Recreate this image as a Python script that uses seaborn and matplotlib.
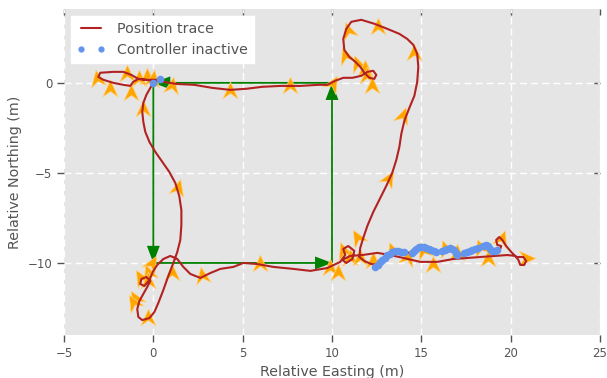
import matplotlib
matplotlib.use("Agg")
import matplotlib.pyplot as plt
import seaborn as sns
from matplotlib.path import Path
from matplotlib.markers import MarkerStyle
from matplotlib.transforms import Affine2D
from matplotlib.lines import Line2D

# ---- data -------------------------------------------------------------
# planned square route (waypoints, metres)
route_x = [0, 0, 10, 10, 0]
route_y = [0, -10, -10, 0, 0]

# recorded position trace (metres east / north of start)
trace_x = [0.00, -0.17, -0.39, -0.56, -0.62, -0.56, -0.45, -0.22, 0.11, 0.50,
           0.89, 1.23, 1.45, 1.57, 1.57, 1.51, 1.34, 1.12, 0.84, 0.56,
           0.28, 0.06, -0.22, -0.62, -0.84, -0.90, -0.78, -0.56, -0.34, -0.17,
           -0.39, -0.67, -0.73, -0.50, -0.22, 0.00, 0.22, 0.56, 0.95, 1.34,
           1.68, 2.07, 2.63, 3.19, 3.75, 4.48, 5.04, 5.82, 6.72, 7.83,
           8.79, 9.74, 10.46, 10.74, 10.63, 10.91, 11.25, 11.14, 10.80, 10.58,
           11.02, 11.70, 12.54, 13.26, 13.99, 14.94, 15.89, 16.79, 18.30, 19.81,
           20.26, 20.43, 20.54, 20.76, 20.87, 20.71, 20.31, 20.03, 19.75, 19.53,
           19.36, 19.19, 19.25, 19.47, 19.42, 19.25, 19.03, 18.86, 18.69, 18.47,
           18.13, 17.85, 17.57, 17.29, 17.01, 16.84, 16.62, 16.23, 15.89, 15.50,
           15.22, 14.94, 14.66, 14.38, 13.99, 13.65, 13.26, 12.87, 12.59, 12.20,
           11.81, 11.53, 11.58, 11.75, 11.98, 12.31, 12.70, 13.04, 13.37, 13.60,
           13.77, 13.88, 14.05, 14.33, 14.61, 14.77, 14.83, 14.77, 14.55, 14.21,
           13.77, 13.09, 12.37, 11.64, 11.08, 10.80, 10.63, 10.69, 10.97, 11.30,
           11.58, 11.81, 12.09, 12.37, 12.48, 12.31, 11.98, 11.64, 11.14, 10.63,
           10.17, 9.74, 9.23, 8.23, 7.11, 6.10, 5.20, 4.31, 3.30, 2.29,
           1.29, 0.56, 0.00, -0.45, -0.84, -1.12, -1.29, -1.68, -2.24, -2.80,
           -3.08, -2.97, -2.24, -1.68, -1.23, -0.84, -0.39, 0.06, 0.39]
trace_y = [0.00, -0.28, -0.67, -1.11, -1.61, -2.17, -2.72, -3.28, -3.83, -4.39,
           -4.94, -5.56, -6.28, -7.06, -7.89, -8.72, -9.39, -10.00, -10.72, -11.50,
           -12.22, -12.72, -13.06, -13.17, -13.00, -12.56, -12.11, -11.72, -11.33, -11.00,
           -10.78, -10.89, -11.17, -11.28, -10.94, -10.44, -10.11, -9.78, -9.61, -9.78,
           -10.22, -10.61, -10.83, -10.56, -10.33, -10.22, -10.00, -10.06, -10.22, -10.33,
           -10.44, -10.28, -9.94, -9.56, -9.22, -9.06, -9.33, -9.78, -10.00, -9.83,
           -9.61, -9.56, -9.44, -9.56, -9.72, -9.94, -9.94, -9.78, -9.67, -9.56,
           -9.61, -9.83, -10.11, -10.11, -9.89, -9.67, -9.67, -9.39, -9.06, -8.72,
           -8.56, -8.72, -9.00, -9.06, -9.22, -9.28, -9.39, -9.28, -9.00, -9.06,
           -9.17, -9.28, -9.39, -9.50, -9.56, -9.28, -9.17, -9.33, -9.39, -9.28,
           -9.17, -9.11, -9.28, -9.44, -9.39, -9.33, -9.44, -9.78, -10.11, -10.06,
           -9.89, -9.67, -9.17, -8.61, -7.94, -7.17, -6.39, -5.72, -5.00, -4.28,
           -3.56, -2.83, -2.11, -1.39, -0.72, 0.06, 0.89, 1.61, 2.11, 2.44,
           2.72, 3.00, 3.28, 3.50, 3.39, 3.00, 2.44, 1.83, 1.44, 1.17,
           0.89, 0.56, 0.28, 0.22, 0.44, 0.67, 0.61, 0.39, 0.28, 0.28,
           0.11, -0.11, -0.11, -0.17, -0.17, -0.22, -0.33, -0.39, -0.28, -0.11,
           -0.06, 0.06, 0.11, 0.17, 0.22, 0.06, -0.17, -0.11, 0.00, 0.17,
           0.33, 0.56, 0.61, 0.61, 0.44, 0.22, 0.17, 0.17, 0.17]

# samples logged while the controller was inactive
idle_x = [0.00, 0.39,
          12.42, 12.59, 12.70, 12.82, 12.95, 13.08, 13.22, 13.38, 13.55, 13.72, 13.88, 14.02,
          14.45, 14.58, 14.72, 14.86, 15.00, 15.14, 15.28, 15.42, 15.56, 15.70, 15.84,
          16.15, 16.30, 16.45, 16.60, 16.72, 16.84, 16.92, 17.00,
          17.40, 17.55, 17.70, 17.85, 18.00, 18.15,
          18.45, 18.62, 18.72, 18.82, 18.95, 19.10, 19.25]
idle_y = [0.00, 0.22,
          -10.22, -10.11, -9.95, -9.83, -9.70, -9.58, -9.48, -9.40, -9.34, -9.33, -9.37, -9.40,
          -9.42, -9.33, -9.22, -9.12, -9.10, -9.14, -9.19, -9.25, -9.30, -9.35, -9.39,
          -9.35, -9.28, -9.20, -9.16, -9.20, -9.30, -9.42, -9.54,
          -9.45, -9.38, -9.32, -9.27, -9.22, -9.17,
          -9.06, -9.00, -9.08, -9.22, -9.35, -9.36, -9.28]

# heading samples: position and heading (deg, counter-clockwise from north)
head_x = [-3.13, -2.41, -1.45, -1.23, -0.78, -0.34, 0.00, -0.56, 1.06, 4.31,
          7.67, 10.07, 1.40, -0.06, -0.28, -0.73, -0.28, -1.01, -1.12, -0.28,
          1.06, 2.74, 5.99, 9.90, 10.35, 10.63, 11.42, 11.02, 11.58, 12.31,
          13.37, 14.27, 15.11, 15.67, 16.34, 17.01, 18.30, 18.75, 19.53, 20.93,
          13.21, 13.99, 14.61, 12.59, 10.91, 10.74, 11.42, 11.86, 11.98, 12.26]
head_y = [0.28, -0.28, 0.56, -0.50, 0.28, 0.39, 0.28, -1.39, -0.11, -0.39,
          -0.11, 0.00, -5.78, -10.00, -10.50, -10.78, -10.94, -11.94, -12.17, -13.00,
          -10.50, -10.67, -10.00, -10.22, -10.50, -9.28, -8.56, -9.67, -9.67, -9.83,
          -9.28, -9.67, -9.28, -10.06, -9.17, -9.39, -9.11, -9.72, -8.61, -9.72,
          -5.28, -1.78, 1.72, 3.17, 2.94, 1.56, 1.11, 0.83, 0.44, -0.11]
head_deg = [10, 0, 0, 0, 0, 0, -10, 0, -10, 0,
            0, -30, -15, -30, 20, 30, 0, 30, 30, 0,
            0, 10, 0, 0, 0, 20, 30, 0, 0, 0,
            20, -20, 20, 0, 20, 0, 20, 0, -20, -90,
            -30, -20, 0, 0, 20, 20, 20, 0, 0, 0]

x_ticks = [-5, 0, 5, 10, 15, 20, 25]
y_ticks = [-10, -5, 0]

# ---- style ------------------------------------------------------------
grey_text = "#555555"
sns.set_theme(style="darkgrid", rc={
    "axes.facecolor": "#E5E5E5",
    "grid.color": "white",
    "grid.linestyle": (0, (5, 3)),
    "grid.linewidth": 1.0,
    "text.color": grey_text,
    "axes.labelcolor": grey_text,
    "xtick.color": grey_text,
    "ytick.color": grey_text,
    "xtick.bottom": True,
    "ytick.left": True,
    "xtick.direction": "out",
    "ytick.direction": "out",
})
plt.rcParams["font.family"] = ["DejaVu Sans"]

fig = plt.figure(figsize=(6.07, 3.78), dpi=100)
ax = fig.add_axes([64 / 607, 43 / 378, 536 / 607, 326 / 378])

# planned route with arrow heads
for i in range(len(route_x) - 1):
    ax.arrow(route_x[i], route_y[i],
             route_x[i + 1] - route_x[i], route_y[i + 1] - route_y[i],
             width=0.1, head_width=0.72, head_length=0.95,
             length_includes_head=True, color="green", lw=0, zorder=1)

# heading markers: notched arrowhead rotated to the heading
arrow_path = Path([(0, 0.5), (0.45, -0.5), (0, -0.18), (-0.45, -0.5), (0, 0.5)],
                  [Path.MOVETO, Path.LINETO, Path.LINETO, Path.LINETO, Path.CLOSEPOLY])
for hx, hy, hd in zip(head_x, head_y, head_deg):
    m = MarkerStyle(arrow_path, transform=Affine2D().rotate_deg(hd))
    ax.plot(hx, hy, linestyle="none", marker=m, markersize=12,
            color="#FFA500", markeredgecolor="#FFD27F", markeredgewidth=0.5,
            zorder=2)

trace_color = "#B22222"
idle_color = "#6495ED"
sns.lineplot(x=trace_x, y=trace_y, sort=False, estimator=None,
             color=trace_color, linewidth=1.5, ax=ax, zorder=3)
sns.scatterplot(x=idle_x, y=idle_y, color=idle_color, s=30,
                linewidth=0, ax=ax, zorder=4)

ax.set_xlim(-5, 25)
ax.set_ylim(-14, 4.1)
ax.set_xticks(x_ticks)
ax.set_yticks(y_ticks)
ax.tick_params(axis="both", labelsize=8.5, length=5, width=1, colors=grey_text)
ax.set_xlabel("Relative Easting (m)", fontsize=10.3)
ax.set_ylabel("Relative Northing (m)", fontsize=10.3)
for s in ax.spines.values():
    s.set_visible(False)

# short inward ticks along the top and right edges
top = ax.secondary_xaxis("top")
top.set_xticks(x_ticks)
top.tick_params(direction="in", length=4, width=1, colors=grey_text, labeltop=False)
right = ax.secondary_yaxis("right")
right.set_yticks(y_ticks)
right.tick_params(direction="in", length=4, width=1, colors=grey_text, labelright=False)
for sec in (top, right):
    for s in sec.spines.values():
        s.set_visible(False)

handles = [Line2D([], [], color=trace_color, linewidth=1.5),
           Line2D([], [], linestyle="none", marker="o", markersize=4.5,
                  markeredgewidth=0, color=idle_color)]
leg = ax.legend(handles, ["Position trace", "Controller inactive"],
                loc="upper left", numpoints=2, fontsize=10.3,
                frameon=True, facecolor="white", edgecolor="white",
                framealpha=1, fancybox=False, borderaxespad=0.5)

fig.savefig("out.png", dpi=100)
